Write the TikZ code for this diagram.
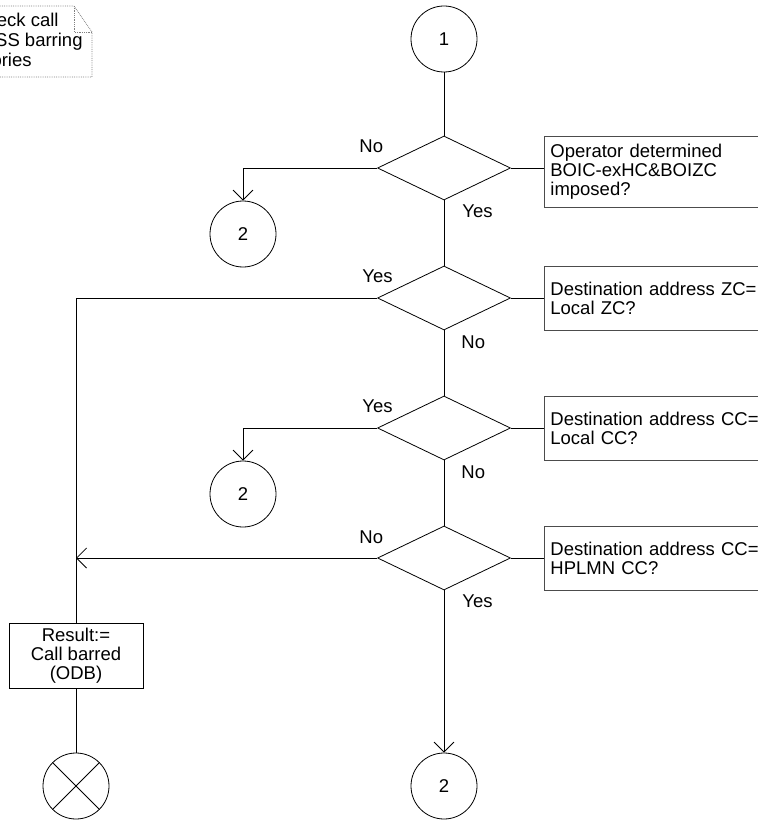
\documentclass[tikz,border=0pt]{standalone}
\usepackage{fontspec}
\setmainfont{Liberation Sans}
\usetikzlibrary{shapes.geometric,arrows.meta}
\begin{document}
\begin{tikzpicture}[x=1pt,y=-1pt, line width=0.8pt,
  every node/.style={font=\fontsize{18.5}{19}\selectfont},
  dec/.style={draw, shape=diamond, minimum width=133pt, minimum height=64pt, inner sep=0pt},
  conn/.style={draw, circle, minimum size=66pt, inner sep=0pt},
  cmt/.style={draw=black!70, anchor=north west, text width=220pt, align=left, inner xsep=6pt, inner ysep=0pt},
  res/.style={draw, minimum width=134pt, minimum height=65pt, align=center, inner sep=0pt},
  lbl/.style={anchor=base west, inner sep=0pt},
  notetxt/.style={anchor=base east, inner sep=0pt},
  arr/.style={-{Straight Barb[length=10pt,width=20pt]}}
]
\useasboundingbox (0,0) rectangle (757,821);

% note (clipped at left edge)
\draw[gray, densely dotted] (-5,6) -- (74,6) -- (92,32) -- (92,77) -- (-5,77);
\draw[gray, densely dotted] (74,6) -- (74,32) -- (92,32);
\node[notetxt] (n1) at (59,27) {eck call};
\node[notetxt] (n2) at (83,47) {SS barring};
\node[notetxt] (n3) at (32,67) {ories};

% main nodes
\node[conn] (c1) at (444,39) {1};
\node[dec] (d1) at (444,168) {};
\node[dec] (d2) at (444,298) {};
\node[dec] (d3) at (444,428) {};
\node[dec] (d4) at (444,558) {};

\node[cmt, minimum height=71pt] (b1) at (544,136) {Operator determined\\BOIC-exHC\&BOIZC\\imposed?};
\node[cmt, minimum height=64pt] (b2) at (544,266) {Destination address ZC=\\Local ZC?};
\node[cmt, minimum height=64pt] (b3) at (544,396) {Destination address CC=\\Local CC?};
\node[cmt, minimum height=64pt] (b4) at (544,526) {Destination address CC=\\HPLMN CC?};

\node[conn] (c2a) at (243,234) {2};
\node[conn] (c2b) at (243,494) {2};
\node[conn] (c2c) at (444,786) {2};

\node[res] (r) at (76,655.5) {Result:=\\Call barred\\(ODB)};
\node[conn] (x) at (76,786) {};

% labels
\node[lbl] (l1a) at (359,153) {No};
\node[lbl] (l1b) at (462,217) {Yes};
\node[lbl] (l2a) at (362,282) {Yes};
\node[lbl] (l2b) at (461,348) {No};
\node[lbl] (l3a) at (362,412) {Yes};
\node[lbl] (l3b) at (461,478) {No};
\node[lbl] (l4a) at (359,543) {No};
\node[lbl] (l4b) at (462,607) {Yes};

% connectors
\draw (c1.south) -- (d1.north);
\draw (d1.east) -- (d1.east -| b1.west);
\draw (d2.east) -- (d2.east -| b2.west);
\draw (d3.east) -- (d3.east -| b3.west);
\draw (d4.east) -- (d4.east -| b4.west);

\draw[arr] (d1.west) -| (c2a.north);
\draw (d1.south) -- (d2.north);
\draw (d2.west) -| (r.north);
\draw (d2.south) -- (d3.north);
\draw[arr] (d3.west) -| (c2b.north);
\draw (d3.south) -- (d4.north);
\coordinate (j) at (r.north |- d4.west);
\draw[arr] (d4.west) -- (j);
\draw[arr] (d4.south) -- (c2c.north);
\draw (r.south) -- (x.north);
\draw (x.45) -- (x.225) (x.135) -- (x.315);
\end{tikzpicture}
\end{document}
